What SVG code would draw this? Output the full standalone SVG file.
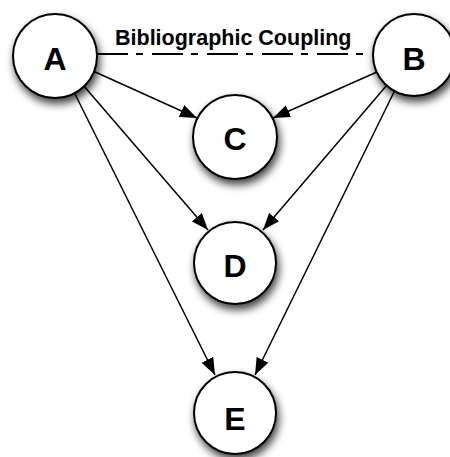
<svg xmlns="http://www.w3.org/2000/svg" width="450" height="457" viewBox="0 0 450 457">
  <style>
    .node circle { fill: #ffffff; stroke: #000000; stroke-width: 2; filter: url(#shadow); }
    .node text { font-family: "Liberation Sans", Arial, sans-serif; font-weight: bold; font-size: 32px; text-anchor: middle; fill: #000000; }
    .edge { stroke: #000000; stroke-width: 1.5; fill: none; }
    .arrow { marker-end: url(#head); }
    .coupling { stroke-dasharray: 31 8 7 9; stroke-width: 2; }
    .label { font-family: "Liberation Sans", Arial, sans-serif; font-weight: bold; font-size: 21.5px; fill: #000000; }
  </style>
  <defs>
    <filter id="shadow" x="-40%" y="-40%" width="180%" height="190%">
      <feGaussianBlur in="SourceAlpha" stdDeviation="4"/>
      <feOffset dx="2" dy="5" result="blur"/>
      <feComponentTransfer><feFuncA type="linear" slope="0.75"/></feComponentTransfer>
      <feMerge><feMergeNode/><feMergeNode in="SourceGraphic"/></feMerge>
    </filter>
    <marker id="head" markerUnits="userSpaceOnUse" markerWidth="18" markerHeight="14" refX="17" refY="6.5" orient="auto">
      <path d="M0,0 L17,6.5 L0,13 Z" fill="#000000"/>
    </marker>
  </defs>

  <rect width="450" height="457" fill="#ffffff"/>

  <g id="connectors">
    <line class="edge coupling" x1="97" y1="54" x2="367" y2="54"/>
    <text class="label" x="115" y="45">Bibliographic Coupling</text>
    <line class="edge arrow" x1="93" y1="71" x2="197" y2="118"/>
    <line class="edge arrow" x1="377" y1="72" x2="273" y2="118"/>
    <line class="edge arrow" x1="83" y1="85" x2="208" y2="230"/>
    <line class="edge arrow" x1="387" y1="85" x2="263" y2="230"/>
    <line class="edge arrow" x1="73" y1="90" x2="215" y2="375"/>
    <line class="edge arrow" x1="395" y1="90" x2="255" y2="375"/>
  </g>

  <g id="node-A" class="node">
    <circle cx="55" cy="56" r="42"/>
    <text x="55" y="70">A</text>
  </g>
  <g id="node-B" class="node">
    <circle cx="414" cy="55" r="41"/>
    <text x="414" y="70">B</text>
  </g>
  <g id="node-C" class="node">
    <circle cx="235" cy="137" r="42"/>
    <text x="235" y="150">C</text>
  </g>
  <g id="node-D" class="node">
    <circle cx="235" cy="263" r="41"/>
    <text x="235" y="277">D</text>
  </g>
  <g id="node-E" class="node">
    <circle cx="235" cy="413" r="41"/>
    <text x="235" y="430">E</text>
  </g>
</svg>
